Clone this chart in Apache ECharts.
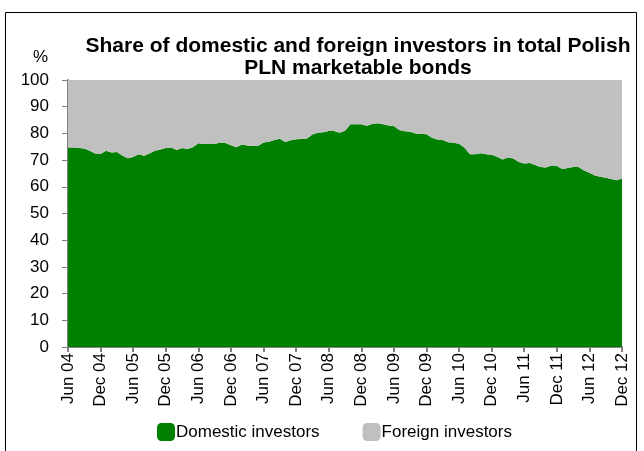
<!DOCTYPE html>
<html>
<head>
<meta charset="utf-8">
<script src="https://cdn.jsdelivr.net/npm/echarts@6/dist/echarts.min.js"></script>
<style>
html,body{margin:0;padding:0;background:#fff;}
#chart{width:644px;height:451px;}
</style>
</head>
<body>
<div id="chart"></div>
<script>
// Monthly observations Jun 2004 .. Dec 2012
const monthNames = ['Jan','Feb','Mar','Apr','May','Jun','Jul','Aug','Sep','Oct','Nov','Dec'];
const startYear = 2004, startMonth = 5, nMonths = 103;
const categories = [];
for (let i = 0; i < nMonths; i++) {
  const m = (startMonth + i) % 12;
  const y = startYear + Math.floor((startMonth + i) / 12);
  categories.push(monthNames[m] + ' ' + String(y % 100).padStart(2, '0'));
}

const domestic = [
  74.7, 74.7, 74.5, 74.3, 73.5, 72.5, 72.3, 73.5, 72.8, 73.0,
  71.7, 70.7, 71.2, 72.2, 71.6, 72.5, 73.5, 74.0, 74.5, 74.7,
  73.8, 74.5, 74.2, 74.8, 76.3, 76.0, 76.2, 76.0, 76.6, 76.4,
  75.6, 74.8, 75.8, 75.5, 75.4, 75.3, 76.6, 76.9, 77.5, 78.0,
  76.8, 77.4, 77.8, 77.9, 78.1, 79.6, 80.2, 80.4, 80.9, 80.9,
  80.2, 81.0, 83.4, 83.4, 83.4, 82.9, 83.5, 83.8, 83.4, 83.0,
  82.8, 81.3, 80.8, 80.6, 80.0, 79.9, 79.7, 78.4, 77.7, 77.5,
  76.7, 76.5, 76.1, 74.6, 72.2, 72.2, 72.6, 72.2, 72.0, 71.3,
  70.2, 71.0, 70.6, 69.3, 68.7, 68.9, 68.2, 67.4, 67.2, 68.0,
  67.8, 66.7, 67.0, 67.4, 67.4, 66.1, 65.3, 64.2, 63.8, 63.4,
  62.9, 62.5, 63.1
];
const foreign = [
  25.3, 25.3, 25.5, 25.7, 26.5, 27.5, 27.7, 26.5, 27.2, 27.0,
  28.3, 29.3, 28.8, 27.8, 28.4, 27.5, 26.5, 26.0, 25.5, 25.3,
  26.2, 25.5, 25.8, 25.2, 23.7, 24.0, 23.8, 24.0, 23.4, 23.6,
  24.4, 25.2, 24.2, 24.5, 24.6, 24.7, 23.4, 23.1, 22.5, 22.0,
  23.2, 22.6, 22.2, 22.1, 21.9, 20.4, 19.8, 19.6, 19.1, 19.1,
  19.8, 19.0, 16.6, 16.6, 16.6, 17.1, 16.5, 16.2, 16.6, 17.0,
  17.2, 18.7, 19.2, 19.4, 20.0, 20.1, 20.3, 21.6, 22.3, 22.5,
  23.3, 23.5, 23.9, 25.4, 27.8, 27.8, 27.4, 27.8, 28.0, 28.7,
  29.8, 29.0, 29.4, 30.7, 31.3, 31.1, 31.8, 32.6, 32.8, 32.0,
  32.2, 33.3, 33.0, 32.6, 32.6, 33.9, 34.7, 35.8, 36.2, 36.6,
  37.1, 37.5, 36.9
];

const titleLines = 'Share of domestic and foreign investors in total Polish\nPLN marketable bonds';
const yTicks = { min: 0, max: 100, interval: 10 };

const chart = echarts.init(document.getElementById('chart'), null, { renderer: 'canvas' });
const font = 'Liberation Sans, Arial, sans-serif';
chart.setOption({
  animation: false,
  backgroundColor: '#ffffff',
  title: {
    text: titleLines,
    left: 353,
    top: 30,
    textAlign: 'center',
    textStyle: { fontFamily: font, fontSize: 21, fontWeight: 'bold', color: '#000', lineHeight: 22 }
  },
  graphic: [
    { type: 'rect', shape: { x: 5.5, y: 12.5, width: 631, height: 445 }, style: { fill: 'none', stroke: '#000', lineWidth: 1 }, silent: true, z: 100 },
    { type: 'text', left: 33, top: 49, style: { text: '%', font: '17px ' + font, fill: '#000' } }
  ],
  legend: {
    left: 152,
    top: 418,
    itemWidth: 18,
    itemHeight: 18,
    itemGap: 43,
    icon: 'roundRect',
    textStyle: { fontFamily: font, fontSize: 17, color: '#000', padding: [0, 0, 0, -4] },
    data: ['Domestic investors', 'Foreign investors']
  },
  grid: { left: 68, right: 22, top: 80, bottom: 104, containLabel: false },
  xAxis: {
    type: 'category',
    data: categories,
    boundaryGap: false,
    axisLine: { lineStyle: { color: '#808080', width: 2 } },
    axisTick: { interval: 5, length: 5, lineStyle: { color: '#808080', width: 2 } },
    axisLabel: { interval: 5, rotate: 90, fontFamily: font, fontSize: 17, color: '#000', margin: 6 },
    splitLine: { show: false }
  },
  yAxis: {
    type: 'value',
    min: yTicks.min,
    max: yTicks.max,
    interval: yTicks.interval,
    axisLine: { show: true, lineStyle: { color: '#808080', width: 2 } },
    axisTick: { show: true, length: 6, lineStyle: { color: '#808080', width: 1 } },
    axisLabel: { fontFamily: font, fontSize: 17, color: '#000', margin: 19 },
    splitLine: { show: false }
  },
  series: [
    {
      name: 'Domestic investors',
      type: 'line',
      stack: 'total',
      data: domestic,
      symbol: 'none',
      lineStyle: { width: 0 },
      itemStyle: { color: '#008000' },
      areaStyle: { color: '#008000', opacity: 1 }
    },
    {
      name: 'Foreign investors',
      type: 'line',
      stack: 'total',
      data: foreign,
      symbol: 'none',
      lineStyle: { width: 0 },
      itemStyle: { color: '#C0C0C0' },
      areaStyle: { color: '#C0C0C0', opacity: 1 }
    }
  ]
});
</script>
</body>
</html>
